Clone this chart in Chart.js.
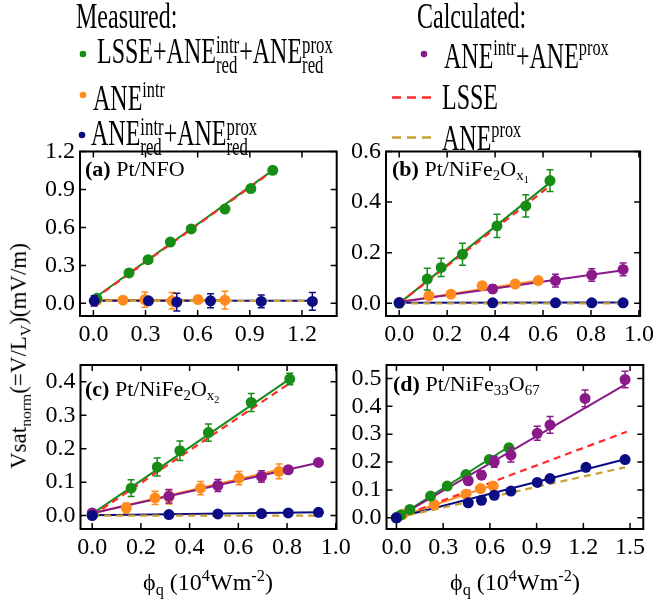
<!DOCTYPE html>
<html><head><meta charset="utf-8">
<script src="https://cdn.jsdelivr.net/npm/chart.js@4.4.0/dist/chart.umd.min.js"></script>
<style>
body{margin:0;background:#fff;}
#wrap{position:relative;width:658px;height:608px;overflow:hidden;font-family:'Liberation Serif',serif;color:#000;}
canvas{position:absolute;left:0;top:0;}
.t{position:absolute;white-space:nowrap;line-height:1;}
.lg{font-size:24px;transform:translateY(-50%) scaleY(1.45);transform-origin:left center;}
.sup{font-size:0.68em;vertical-align:0.55em;}
.sub{font-size:0.68em;vertical-align:-0.3em;}
.stk{display:inline-flex;flex-direction:column;font-size:0.7em;line-height:0.85;vertical-align:0.43em;}
.pl{font-size:22px;}
.ax{font-size:24px;}
.yt{font-size:23px;}
</style></head>
<body><div id="wrap">
<canvas id="ca" width="658" height="608"></canvas>
<canvas id="cb" width="658" height="608"></canvas>
<canvas id="cc" width="658" height="608"></canvas>
<canvas id="cd" width="658" height="608"></canvas>
<svg style="position:absolute;left:0;top:0" width="658" height="160">
<circle cx="83" cy="54" r="3.3" fill="#178c17"/>
<circle cx="83" cy="95" r="3.3" fill="#ff8b1e"/>
<circle cx="82" cy="135" r="3.3" fill="#0c0c83"/>
<circle cx="424" cy="54" r="3.3" fill="#8a1a8a"/>
<line x1="392" y1="97.5" x2="433" y2="97.5" stroke="#ff2a2a" stroke-width="2.5" stroke-dasharray="9,6"/>
<line x1="392" y1="137.5" x2="433" y2="137.5" stroke="#c9a033" stroke-width="2.5" stroke-dasharray="9,6"/>
</svg>
<div class="t lg" style="left:76px;top:16px;">Measured:</div>
<div class="t lg" style="left:97px;top:55px;">LSSE+ANE<span class="stk"><span>intr</span><span>red</span></span>+ANE<span class="stk"><span>prox</span><span>red</span></span></div>
<div class="t lg" style="left:93px;top:97px;">ANE<span class="sup">intr</span></div>
<div class="t lg" style="left:91px;top:137px;">ANE<span class="stk"><span>intr</span><span>red</span></span>+ANE<span class="stk"><span>prox</span><span>red</span></span></div>
<div class="t lg" style="left:417px;top:16px;">Calculated:</div>
<div class="t lg" style="left:444px;top:55px;">ANE<span class="sup">intr</span>+ANE<span class="sup">prox</span></div>
<div class="t lg" style="left:442px;top:97px;">LSSE</div>
<div class="t lg" style="left:442px;top:137px;">ANE<span class="sup">prox</span></div>

<div class="t pl" style="left:85px;top:158px;"><b>(a)</b> Pt/NFO</div>
<div class="t pl" style="left:392px;top:158px;"><b>(b)</b> Pt/NiFe<span class="sub">2</span>O<span class="sub">x<span class="sub">1</span></span></div>
<div class="t pl" style="left:85px;top:378px;"><b>(c)</b> Pt/NiFe<span class="sub">2</span>O<span class="sub">x<span class="sub">2</span></span></div>
<div class="t pl" style="left:393px;top:373px;"><b>(d)</b> Pt/NiFe<span class="sub">33</span>O<span class="sub">67</span></div>

<div class="t yt" style="left:20px;top:356px;transform:translate(-50%,-50%) rotate(-90deg);">Vsat<span class="sub">norm</span>(=V/L<span class="sub">V</span>)(mV/m)</div>
<div class="t ax" style="left:208px;top:583px;transform:translate(-50%,-50%);">ϕ<span class="sub">q</span> (10<span class="sup">4</span>Wm<span class="sup">-2</span>)</div>
<div class="t ax" style="left:515px;top:583px;transform:translate(-50%,-50%);">ϕ<span class="sub">q</span> (10<span class="sup">4</span>Wm<span class="sup">-2</span>)</div>
</div>
<script>
// ---------- Panel (a) Pt/NFO ----------
const aXTicks=[0,0.3,0.6,0.9,1.2];
const aYTicks=[0,0.3,0.6,0.9,1.2];
const aGreenX=[0.02,0.205,0.315,0.443,0.563,0.757,0.906,1.032];
const aGreenY=[0.04,0.24,0.345,0.484,0.588,0.745,0.907,1.051];
const aGreenErr=[0,0,0,0,0,0,0,0];
const aOrangeX=[0.021,0.17,0.296,0.453,0.602,0.757];
const aOrangeY=[0.025,0.025,0.03,0.02,0.03,0.025];
const aOrangeErr=[0.03,0.01,0.06,0.065,0.015,0.07];
const aBlueX=[0.005,0.317,0.48,0.674,0.966,1.26];
const aBlueY=[0.02,0.02,0.01,0.02,0.015,0.015];
const aBlueErr=[0.04,0.02,0.07,0.055,0.05,0.07];
const aGreenFitX=[0.005,1.035], aGreenFitY=[0.04,1.055];
const aOrangeFitX=[0.02,0.76], aOrangeFitY=[0.027,0.025];
const aBlueFitX=[0.0,1.26], aBlueFitY=[0.02,0.02];
const aLsseX=[0.005,1.035], aLsseY=[0.035,1.05];
const aProxX=[0.0,1.26], aProxY=[0.02,0.02];

// ---------- Panel (b) Pt/NiFe2Ox1 ----------
const bXTicks=[0,0.2,0.4,0.6,0.8,1.0];
const bYTicks=[0,0.2,0.4,0.6];
const bGreenX=[0.0,0.117,0.175,0.264,0.408,0.528,0.629];
const bGreenY=[0.0,0.096,0.142,0.194,0.306,0.385,0.485];
const bGreenErr=[0.01,0.043,0.036,0.043,0.046,0.044,0.043];
const bOrangeX=[0.124,0.216,0.346,0.484,0.58];
const bOrangeY=[0.03,0.036,0.07,0.076,0.09];
const bOrangeErr=[0.008,0.008,0.01,0.01,0.01];
const bPurpleX=[0.0,0.39,0.652,0.803,0.934];
const bPurpleY=[0.003,0.057,0.09,0.112,0.134];
const bPurpleErr=[0.005,0.015,0.025,0.025,0.025];
const bBlueX=[0.0,0.39,0.652,0.803,0.934];
const bBlueY=[0.002,0.002,0.002,0.002,0.002];
const bBlueErr=[0,0,0,0,0];
const bGreenFitX=[0.0,0.63], bGreenFitY=[0.0,0.478];
const bOrangeFitX=[0.0,0.58], bOrangeFitY=[0.005,0.09];
const bPurpleFitX=[0.0,0.934], bPurpleFitY=[0.005,0.131];
const bBlueFitX=[0.0,0.934], bBlueFitY=[0.002,0.003];
const bLsseX=[0.0,0.63], bLsseY=[0.0,0.465];
const bProxX=[0.0,0.934], bProxY=[0.0,0.0];

// ---------- Panel (c) Pt/NiFe2Ox2 ----------
const cXTicks=[0,0.2,0.4,0.6,0.8,1.0];
const cYTicks=[0,0.1,0.2,0.3,0.4];
const cGreenX=[0.003,0.16,0.267,0.36,0.477,0.653,0.811];
const cGreenY=[0.003,0.082,0.145,0.194,0.248,0.338,0.408];
const cGreenErr=[0.005,0.025,0.027,0.029,0.026,0.027,0.017];
const cOrangeX=[0.0,0.14,0.258,0.315,0.445,0.603,0.767];
const cOrangeY=[0.003,0.023,0.053,0.055,0.082,0.112,0.132];
const cOrangeErr=[0.005,0.015,0.02,0.02,0.02,0.02,0.022];
const cPurpleX=[0.0,0.315,0.516,0.695,0.805,0.929];
const cPurpleY=[0.008,0.058,0.09,0.117,0.137,0.159];
const cPurpleErr=[0.005,0.02,0.018,0.017,0.005,0.005];
const cBlueX=[0.0,0.315,0.516,0.695,0.805,0.929];
const cBlueY=[0.0,0.003,0.005,0.006,0.008,0.01];
const cBlueErr=[0,0,0,0,0,0];
const cGreenFitX=[0.0,0.81], cGreenFitY=[0.005,0.408];
const cOrangeFitX=[0.0,0.767], cOrangeFitY=[0.007,0.137];
const cPurpleFitX=[0.0,0.929], cPurpleFitY=[0.007,0.158];
const cBlueFitX=[0.0,0.929], cBlueFitY=[0.001,0.01];
const cLsseX=[0.0,0.81], cLsseY=[0.0,0.395];
const cProxX=[0.0,0.929], cProxY=[0.0,0.0];

// ---------- Panel (d) Pt/NiFe33O67 ----------
const dXTicks=[0,0.3,0.6,0.9,1.2,1.5];
const dYTicks=[0,0.1,0.2,0.3,0.4,0.5];
const dGreenX=[0.0,0.028,0.086,0.219,0.326,0.446,0.596,0.722];
const dGreenY=[0.0,0.01,0.03,0.078,0.114,0.155,0.209,0.251];
const dGreenErr=[0,0.005,0.005,0.008,0.008,0.01,0.01,0.012];
const dOrangeX=[0.0,0.043,0.242,0.446,0.54,0.621];
const dOrangeY=[0.0,0.013,0.048,0.085,0.105,0.114];
const dOrangeErr=[0,0.005,0.008,0.008,0.008,0.008];
const dPurpleX=[0.0,0.461,0.546,0.628,0.735,0.904,0.986,1.211,1.468];
const dPurpleY=[0.0,0.133,0.153,0.201,0.225,0.303,0.333,0.428,0.496];
const dPurpleErr=[0,0.012,0.015,0.02,0.025,0.025,0.03,0.03,0.03];
const dBlueX=[0.0,0.461,0.546,0.628,0.735,0.904,0.986,1.217,1.468];
const dBlueY=[0.0,0.054,0.063,0.081,0.096,0.127,0.141,0.181,0.209];
const dBlueErr=[0,0,0,0,0,0,0,0,0];
const dGreenFitX=[0.0,0.722], dGreenFitY=[0.0,0.255];
const dOrangeFitX=[0.0,0.621], dOrangeFitY=[0.0,0.118];
const dPurpleFitX=[0.0,1.468], dPurpleFitY=[0.0,0.478];
const dBlueFitX=[0.0,1.468], dBlueFitY=[0.0,0.21];
const dLsseX=[0.0,1.479], dLsseY=[0.0,0.309];
const dProxX=[0.0,1.468], dProxY=[0.0,0.181];

const COL={green:'#178c17',orange:'#ff8b1e',blue:'#0c0c83',purple:'#8a1a8a',red:'#ff2a2a',gold:'#c9a033'};
Chart.defaults.font.family="'Liberation Serif', serif";

function pts(xs,ys){return xs.map((x,i)=>({x:x,y:ys[i]}));}
function scat(xs,ys,errs,c){return {data:pts(xs,ys),errs:errs,backgroundColor:c,borderColor:c,pointRadius:5.5,pointHoverRadius:5.5,pointBorderWidth:0,showLine:false};}
function ln(xs,ys,c,dash){return {data:pts(xs,ys),borderColor:c,backgroundColor:c,pointRadius:0,pointHoverRadius:0,showLine:true,borderWidth:dash?2.2:2,borderDash:dash||[],fill:false};}

const framePlugin={id:'frame',
 beforeDatasetDraw(chart,args){
  const ds=chart.data.datasets[args.index]; if(!ds.errs) return;
  const ctx=chart.ctx,xs=chart.scales.x,ys=chart.scales.y;
  ctx.save(); ctx.strokeStyle=ds.borderColor; ctx.lineWidth=1.5;
  ds.data.forEach((p,i)=>{const e=ds.errs[i]; if(!e) return;
   const px=xs.getPixelForValue(p.x),y1=ys.getPixelForValue(p.y-e),y2=ys.getPixelForValue(p.y+e);
   ctx.beginPath(); ctx.moveTo(px,y1); ctx.lineTo(px,y2);
   ctx.moveTo(px-3.5,y1); ctx.lineTo(px+3.5,y1); ctx.moveTo(px-3.5,y2); ctx.lineTo(px+3.5,y2); ctx.stroke();});
  ctx.restore();
 },
 afterDraw(chart){
  const ctx=chart.ctx,a=chart.chartArea,x=chart.scales.x,y=chart.scales.y;
  ctx.save(); ctx.strokeStyle='#000'; ctx.lineWidth=2;
  ctx.strokeRect(a.left,a.top,a.right-a.left,a.bottom-a.top);
  ctx.lineWidth=1.5; const tl=6; ctx.beginPath();
  x.ticks.forEach(t=>{const p=x.getPixelForValue(t.value); ctx.moveTo(p,a.bottom); ctx.lineTo(p,a.bottom-tl); ctx.moveTo(p,a.top); ctx.lineTo(p,a.top+tl);});
  y.ticks.forEach(t=>{const p=y.getPixelForValue(t.value); ctx.moveTo(a.left,p); ctx.lineTo(a.left+tl,p); ctx.moveTo(a.right,p); ctx.lineTo(a.right-tl,p);});
  ctx.stroke(); ctx.restore();
 }};

function panel(id,box,xr,yr,xt,yt,datasets){
 const tickFont={family:"'Liberation Serif', serif",size:24};
 new Chart(document.getElementById(id),{type:'scatter',
  data:{datasets:datasets},
  options:{responsive:false,animation:false,devicePixelRatio:1,
   layout:{padding:{left:box.L-60,top:box.T,right:658-box.R,bottom:608-box.B-40}},
   plugins:{legend:{display:false},tooltip:{enabled:false}},
   scales:{
    x:{type:'linear',min:xr[0],max:xr[1],grid:{display:false,drawTicks:false},border:{display:false},
     ticks:{font:tickFont,color:'#000',padding:4,maxRotation:0,autoSkip:false,callback:v=>Number(v).toFixed(1)},
     afterBuildTicks:s=>{s.ticks=xt.map(v=>({value:v}));},afterFit:s=>{s.height=40;}},
    y:{type:'linear',min:yr[0],max:yr[1],grid:{display:false,drawTicks:false},border:{display:false},
     ticks:{font:tickFont,color:'#000',padding:5,autoSkip:false,callback:v=>Number(v).toFixed(1)},
     afterBuildTicks:s=>{s.ticks=yt.map(v=>({value:v}));},afterFit:s=>{s.width=60;}}
   }},
  plugins:[framePlugin]});
}

panel('ca',{L:80,T:151.5,R:336.7,B:316},[-0.077,1.40],[-0.1,1.2],aXTicks,aYTicks,[
 scat(aBlueX,aBlueY,aBlueErr,COL.blue),
 scat(aGreenX,aGreenY,aGreenErr,COL.green),
 scat(aOrangeX,aOrangeY,aOrangeErr,COL.orange),
 ln(aLsseX,aLsseY,COL.red,[7,5]),
 ln(aProxX,aProxY,COL.gold,[7,5]),
 ln(aBlueFitX,aBlueFitY,COL.blue),
 ln(aGreenFitX,aGreenFitY,COL.green),
 ln(aOrangeFitX,aOrangeFitY,COL.orange)]);

panel('cb',{L:386,T:151.5,R:643.3,B:316},[-0.055,1.005],[-0.05,0.6],bXTicks,bYTicks,[
 scat(bBlueX,bBlueY,bBlueErr,COL.blue),
 scat(bPurpleX,bPurpleY,bPurpleErr,COL.purple),
 scat(bGreenX,bGreenY,bGreenErr,COL.green),
 scat(bOrangeX,bOrangeY,bOrangeErr,COL.orange),
 ln(bLsseX,bLsseY,COL.red,[7,5]),
 ln(bProxX,bProxY,COL.gold,[7,5]),
 ln(bBlueFitX,bBlueFitY,COL.blue),
 ln(bPurpleFitX,bPurpleFitY,COL.purple),
 ln(bGreenFitX,bGreenFitY,COL.green),
 ln(bOrangeFitX,bOrangeFitY,COL.orange)]);

panel('cc',{L:80.5,T:365,R:336.5,B:529},[-0.048,1.003],[-0.04,0.45],cXTicks,cYTicks,[
 scat(cBlueX,cBlueY,cBlueErr,COL.blue),
 scat(cPurpleX,cPurpleY,cPurpleErr,COL.purple),
 scat(cGreenX,cGreenY,cGreenErr,COL.green),
 scat(cOrangeX,cOrangeY,cOrangeErr,COL.orange),
 ln(cLsseX,cLsseY,COL.red,[7,5]),
 ln(cProxX,cProxY,COL.gold,[7,5]),
 ln(cBlueFitX,cBlueFitY,COL.blue),
 ln(cPurpleFitX,cPurpleFitY,COL.purple),
 ln(cGreenFitX,cGreenFitY,COL.green),
 ln(cOrangeFitX,cOrangeFitY,COL.orange)]);

panel('cd',{L:386.5,T:365,R:643.3,B:529},[-0.064,1.585],[-0.04,0.548],dXTicks,dYTicks,[
 scat(dBlueX,dBlueY,dBlueErr,COL.blue),
 scat(dPurpleX,dPurpleY,dPurpleErr,COL.purple),
 scat(dGreenX,dGreenY,dGreenErr,COL.green),
 scat(dOrangeX,dOrangeY,dOrangeErr,COL.orange),
 ln(dLsseX,dLsseY,COL.red,[7,5]),
 ln(dProxX,dProxY,COL.gold,[7,5]),
 ln(dBlueFitX,dBlueFitY,COL.blue),
 ln(dPurpleFitX,dPurpleFitY,COL.purple),
 ln(dGreenFitX,dGreenFitY,COL.green),
 ln(dOrangeFitX,dOrangeFitY,COL.orange)]);
</script>
</body></html>
